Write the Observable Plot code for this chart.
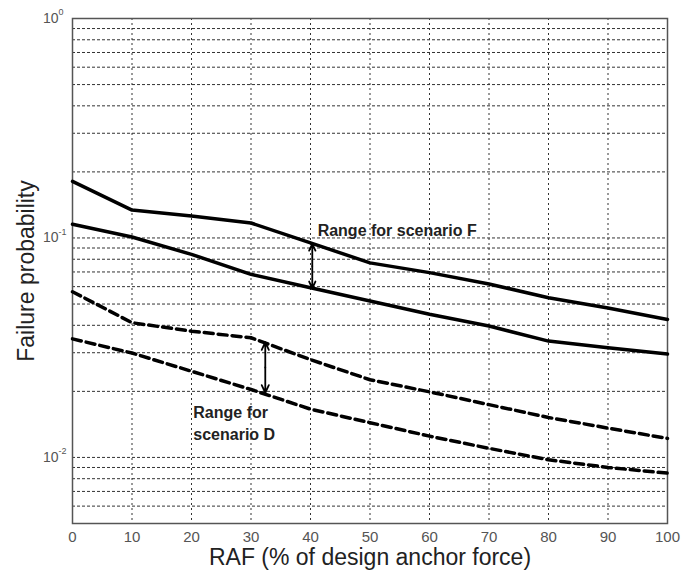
<!DOCTYPE html>
<html>
<head>
<meta charset="utf-8">
<script src="https://cdn.jsdelivr.net/npm/d3@7"></script>
<script src="https://cdn.jsdelivr.net/npm/@observablehq/plot@0.6"></script>
<style>
  body { margin: 0; background: #fff; }
  svg { font-family: "Liberation Sans", Arial, sans-serif; }
</style>
</head>
<body>
<div id="chart"></div>
<script>
// ---- data ----
const raf = [0, 10, 20, 30, 40, 50, 60, 70, 80, 90, 100];
const upperF = [0.181, 0.134, 0.126, 0.117, 0.095, 0.077, 0.0695, 0.0617, 0.0534, 0.048, 0.0425];
const lowerF = [0.1155, 0.101, 0.0842, 0.0683, 0.0593, 0.0516, 0.0449, 0.0397, 0.0339, 0.0316, 0.0296];
const upperD = [0.0569, 0.0411, 0.0376, 0.0351, 0.0279, 0.0226, 0.0199, 0.0174, 0.0152, 0.0136, 0.0122];
const lowerD = [0.0347, 0.0299, 0.0247, 0.0204, 0.0166, 0.0144, 0.0125, 0.0110, 0.00976, 0.0090, 0.00848];

const xTicks = [0, 10, 20, 30, 40, 50, 60, 70, 80, 90, 100];
const yDecades = [1, 0.1, 0.01];
const yDecadeExp = ["0", "-1", "-2"];
const yGrid = [0.006, 0.007, 0.008, 0.009, 0.01, 0.02, 0.03, 0.04, 0.05, 0.06, 0.07, 0.08, 0.09,
               0.1, 0.2, 0.3, 0.4, 0.5, 0.6, 0.7, 0.8, 0.9];

const arrowX = [40.3, 32.4];
const arrowTop = [0.094, 0.0335];
const arrowBottom = [0.059, 0.0197];

const labelText = ["Range for scenario F", "Range for\nscenario D"];
const labelX = [41.2, 20.3];
const labelY = [0.110, 0.01445];

// ---- tables built from the arrays ----
const series = [
  {name: "upperF", vals: upperF, dash: null},
  {name: "lowerF", vals: lowerF, dash: null},
  {name: "upperD", vals: upperD, dash: "9,5"},
  {name: "lowerD", vals: lowerD, dash: "9,5"}
];
const solid = [], dashed = [];
for (const s of series) {
  s.vals.forEach((v, i) => (s.dash ? dashed : solid).push({series: s.name, x: raf[i], y: v}));
}
const arrows = [];
arrowX.forEach((x, i) => {
  const mid = Math.sqrt(arrowTop[i] * arrowBottom[i]);
  arrows.push({x, y1: mid, y2: arrowTop[i]});
  arrows.push({x, y1: mid, y2: arrowBottom[i]});
});
const labels = labelText.map((t, i) => ({t, x: labelX[i], y: labelY[i]}));
const decades = yDecades.map((v, i) => ({v, e: yDecadeExp[i]}));

const chart = Plot.plot({
  width: 691,
  height: 574,
  marginLeft: 72,
  marginRight: 24,
  marginTop: 18,
  marginBottom: 51,
  style: {fontFamily: "'Liberation Sans', Arial, sans-serif", background: "#fff"},
  x: {domain: [0, 100]},
  y: {type: "log", domain: [0.005, 1]},
  marks: [
    Plot.ruleY(yGrid, {stroke: "#333", strokeWidth: 1, strokeDasharray: "3,2"}),
    Plot.ruleX(xTicks.slice(1, -1), {stroke: "#333", strokeWidth: 1, strokeDasharray: "2,3"}),
    Plot.frame({stroke: "#555", strokeWidth: 1.5}),
    Plot.axisX({ticks: xTicks, tickSize: 0, tickPadding: 8, fontSize: 15, color: "#555", label: null}),
    Plot.axisY({ticks: [], label: null}),
    Plot.text(decades, {x: 0, y: "v", text: () => "10", textAnchor: "end", dx: -14, fontSize: 14, fill: "#555"}),
    Plot.text(decades, {x: 0, y: "v", text: "e", textAnchor: "start", dx: -14, dy: -6, fontSize: 9, fill: "#555"}),
    Plot.line(solid, {x: "x", y: "y", z: "series", stroke: "#000", strokeWidth: 3.5}),
    Plot.line(dashed, {x: "x", y: "y", z: "series", stroke: "#000", strokeWidth: 3.5, strokeDasharray: "9,5"}),
    Plot.arrow(arrows, {x1: "x", y1: "y1", x2: "x", y2: "y2", stroke: "#000", strokeWidth: 1.8, headLength: 10, headAngle: 50}),
    Plot.text(labels, {x: "x", y: "y", text: "t", textAnchor: "start", fontSize: 16, fontWeight: "bold", fill: "#222", lineHeight: 1.38}),
    Plot.text(["RAF (% of design anchor force)"], {frameAnchor: "bottom", dy: 34, textAnchor: "middle", lineAnchor: "middle", fontSize: 23, fill: "#222"}),
    Plot.text(["Failure probability"], {frameAnchor: "left", dx: -46, rotate: -90, textAnchor: "middle", lineAnchor: "middle", fontSize: 23, fill: "#222"})
  ]
});
document.getElementById("chart").appendChild(chart);
</script>
</body>
</html>
